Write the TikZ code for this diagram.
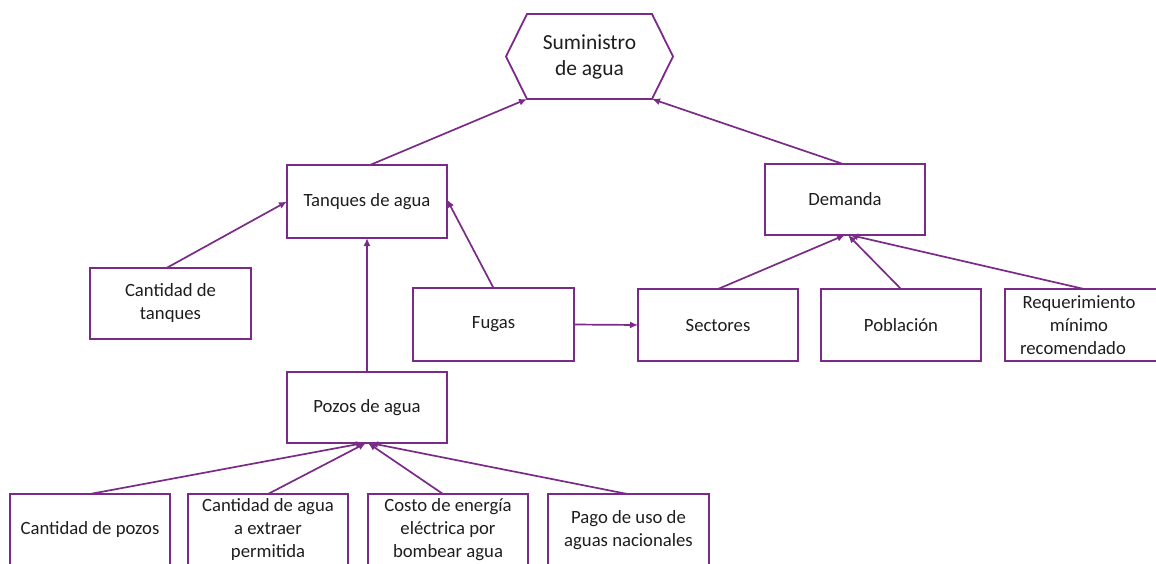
\documentclass[tikz,border=0pt]{standalone}
\usepackage{fontspec}
\setmainfont{Carlito}
\usetikzlibrary{arrows.meta}
\definecolor{pur}{HTML}{7A2A87}
\definecolor{txt}{HTML}{1E1E1E}
\tikzset{
  box/.style={draw=pur, line width=1.8pt, fill=white, rectangle, align=center,
    inner sep=2pt, outer sep=0pt, text=txt,
    font=\fontsize{18.7}{23}\selectfont},
  arr/.style={draw=pur, line width=1.7pt, -{Latex[length=8pt,width=7pt]}},
}
\begin{document}
\begin{tikzpicture}[x=1pt,y=-1pt]
\useasboundingbox (0,0) rectangle (1156,563);
\clip (0,0) rectangle (1156,563);
% hexagon
\coordinate (hTL) at (527,14);
\coordinate (hTR) at (652,14);
\coordinate (hR) at (673,56.5);
\coordinate (hBR) at (652,99);
\coordinate (hBL) at (527,99);
\coordinate (hL) at (506,56.5);
\draw[pur, line width=1.8pt, line join=miter] (hTL) -- (hTR) -- (hR) -- (hBR) -- (hBL) -- (hL) -- cycle;
\node[align=center, text=txt, font=\fontsize{21.5}{26.5}\selectfont] (sum) at (589.5,57) {Suministro\\de agua};
% boxes
\node[box, minimum width=160pt, minimum height=73pt] (tanques) at (367,201.5) {Tanques de agua};
\node[box, minimum width=160pt, minimum height=71pt] (demanda) at (845,199.5) {Demanda};
\node[box, minimum width=161pt, minimum height=71pt] (canttanq) at (170.5,303.5) {Cantidad de\\tanques};
\node[box, minimum width=161pt, minimum height=73pt] (fugas) at (493.5,324.5) {Fugas};
\node[box, minimum width=160pt, minimum height=72pt] (sectores) at (718,325) {Sectores};
\node[box, minimum width=160pt, minimum height=72pt] (poblacion) at (901,325) {Población};
\node[box, minimum width=160pt, minimum height=72pt, text width=150pt] (req) at (1085,325) {\hspace*{-12pt}Requerimiento\hspace*{12pt}\\\hspace*{-12pt}mínimo\hspace*{12pt}\\\hspace*{-12pt}recomendado\hspace*{12pt}};
\node[box, minimum width=160pt, minimum height=71pt] (pozos) at (367,407.5) {Pozos de agua};
\node[box, minimum width=160pt, minimum height=72pt] (cpozos) at (90,530) {Cantidad de pozos};
\node[box, minimum width=160pt, minimum height=72pt] (cagua) at (268,530) {Cantidad de agua\\a extraer\\permitida};
\node[box, minimum width=160pt, minimum height=72pt] (costo) at (448,530) {Costo de energía\\eléctrica por\\bombear agua};
\node[box, minimum width=161pt, minimum height=72pt] (pago) at (628.5,530) {Pago de uso de\\aguas nacionales};
% connectors
\draw[arr] ([xshift=3pt]tanques.north) -- (hBL);
\draw[arr] ([xshift=-2pt]demanda.north) -- (hBR);
\draw[arr] ([xshift=-4pt]canttanq.north) -- (tanques.west);
\draw[arr] (pozos.north) -- (tanques.south);
\draw[arr] (fugas.north) -- ([yshift=2pt]tanques.east);
\draw[arr] (fugas.east) -- (sectores.west);
\draw[arr] (sectores.north) -- (demanda.south);
\draw[arr] (poblacion.north) -- ([xshift=3pt]demanda.south);
\draw[arr] ([xshift=-1pt]req.north) -- ([xshift=5pt]demanda.south);
\draw[arr] (cpozos.north) -- ([xshift=-3pt]pozos.south);
\draw[arr] (cagua.north) -- ([xshift=-1pt]pozos.south);
\draw[arr] ([xshift=-5pt]costo.north) -- ([xshift=1pt]pozos.south);
\draw[arr] ([xshift=-1pt]pago.north) -- ([xshift=3pt]pozos.south);
\end{tikzpicture}
\end{document}
